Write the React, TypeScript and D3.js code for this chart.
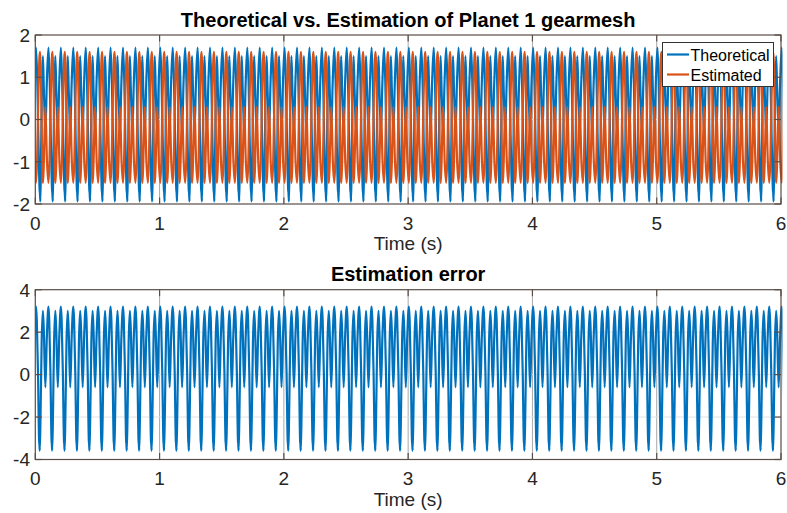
import React from "react";
import * as d3 from "d3";

// ---- data ----
const PERIOD = 0.1; // s, one gearmesh cycle
const FIRST_PEAK = 0.006; // s, time of first tall peak
const T_END = 6;
const xTicks = [0, 1, 2, 3, 4, 5, 6];
const topYTicks = [-2, -1, 0, 1, 2];
const botYTicks = [-4, -2, 0, 2, 4];

// one cycle of each waveform, phase (0..1) and value
const theoPhase = [0.0, 0.1, 0.2, 0.29, 0.31, 0.35, 0.4, 0.47, 0.55, 0.63, 0.75, 0.87];
const theoValue = [1.7, 0.9, -0.6, -1.68, -1.72, -1.94, -0.9, 0.7, 1.5, 0.7, -0.3, 0.9];

const estPhase = [0.0, 0.08, 0.18, 0.27, 0.32, 0.37, 0.45, 0.52, 0.56, 0.62, 0.75, 0.88];
const estValue = [-1.5, -1.0, 0.5, 1.45, 1.6, 1.3, 0.0, -1.35, -1.5, -1.1, 0.3, -1.0];

const errPhase = [0.0, 0.06, 0.16, 0.25, 0.27, 0.3, 0.36, 0.45, 0.55, 0.63, 0.75, 0.87];
const errValue = [3.2, 2.6, 0.0, -3.15, -3.25, -3.58, -2.0, 1.5, 3.0, 2.0, -0.6, 1.8];

const seriesNames = ["Theoretical", "Estimated"];
const topTitle = "Theoretical vs. Estimation of Planet 1 gearmesh";
const botTitle = "Estimation error";
const xLabel = "Time (s)";

// repeat the read cycle over the record
function cycles(phases: number[], values: number[]): [number, number][] {
  const out: [number, number][] = [];
  for (let k = -1; k <= Math.ceil(T_END / PERIOD) + 1; k++) {
    phases.forEach((p, i) => {
      const t = FIRST_PEAK + (k + p) * PERIOD;
      if (t > -0.15 && t < T_END + 0.15) out.push([t, values[i]]);
    });
  }
  return out;
}

const theo = cycles(theoPhase, theoValue);
const est = cycles(estPhase, estValue);
const err = cycles(errPhase, errValue);

const W = 787;
const H = 513;
const FONT = "'Liberation Sans', Arial, Helvetica, sans-serif";
const BLUE = "#0072BD";
const ORANGE = "#D95319";
const AX = "#5a4d46";

const L = 35.3;
const R = 781;

function Panel({
  top, bottom, yDomain, yTicks, series, colors, title, id, legend,
}: {
  top: number; bottom: number; yDomain: [number, number]; yTicks: number[];
  series: [number, number][][]; colors: string[]; title: string; id: string; legend?: boolean;
}) {
  const x = d3.scaleLinear().domain([0, T_END]).range([L, R]);
  const y = d3.scaleLinear().domain(yDomain).range([bottom, top]);
  const line = d3
    .line<[number, number]>()
    .x((d) => x(d[0]))
    .y((d) => y(d[1]))
    .curve(d3.curveMonotoneX);
  const tl = 6.5;
  return (
    <g>
      {/* grid */}
      {xTicks.slice(1, -1).map((t) => (
        <line key={"gx" + t} x1={x(t)} x2={x(t)} y1={top} y2={bottom} stroke="#a8a8a8" strokeWidth={1} />
      ))}
      {yTicks.slice(1, -1).map((t) => (
        <line key={"gy" + t} x1={L} x2={R} y1={y(t)} y2={y(t)} stroke="#e2e2e2" strokeWidth={1} />
      ))}
      <clipPath id={id}>
        <rect x={L} y={top - 1} width={R - L + 1.5} height={bottom - top + 2} />
      </clipPath>
      <g clipPath={`url(#${id})`}>
        {series.map((s, i) => (
          <path key={i} d={line(s) || ""} fill="none" stroke={colors[i]} strokeWidth={2.2} strokeLinejoin="round" />
        ))}
      </g>
      {/* box and ticks */}
      <rect x={L} y={top} width={R - L} height={bottom - top} fill="none" stroke={AX} strokeWidth={1.2} />
      {xTicks.map((t) => (
        <g key={"xt" + t}>
          <line x1={x(t)} x2={x(t)} y1={bottom} y2={bottom - tl} stroke={AX} strokeWidth={1.2} />
          <line x1={x(t)} x2={x(t)} y1={top} y2={top + tl} stroke={AX} strokeWidth={1.2} />
          <text x={x(t)} y={bottom + 25.5} textAnchor="middle" fontSize={19} fontFamily={FONT} fill="#262626">
            {t}
          </text>
        </g>
      ))}
      {yTicks.map((t) => (
        <g key={"yt" + t}>
          <line x1={L} x2={L + tl} y1={y(t)} y2={y(t)} stroke={AX} strokeWidth={1.2} />
          <line x1={R} x2={R - tl} y1={y(t)} y2={y(t)} stroke={AX} strokeWidth={1.2} />
          <text x={30} y={y(t)} dy="0.36em" textAnchor="end" fontSize={19} fontFamily={FONT} fill="#262626">
            {t}
          </text>
        </g>
      ))}
      <text x={(L + R) / 2} y={bottom + 46} textAnchor="middle" fontSize={19} fontFamily={FONT} fill="#262626">
        {xLabel}
      </text>
      <text x={(L + R) / 2} y={top - 8.5} textAnchor="middle" fontSize={20} fontWeight="bold" fontFamily={FONT} fill="#000">
        {title}
      </text>
      {legend && (
        <g>
          <rect x={662.5} y={42.5} width={111} height={44} fill="#fff" stroke="#333" strokeWidth={1} />
          {seriesNames.map((n, i) => (
            <g key={n}>
              <line x1={667} x2={689} y1={54.5 + i * 20} y2={54.5 + i * 20} stroke={colors[i]} strokeWidth={2.2} />
              <text x={690.5} y={60.5 + i * 20.5} fontSize={16} fontFamily={FONT} fill="#000">
                {n}
              </text>
            </g>
          ))}
        </g>
      )}
    </g>
  );
}

export default function App() {
  return (
    <svg
      width={W}
      height={H}
      viewBox={`0 0 ${W} ${H}`}
      style={{ position: "absolute", left: 0, top: 0, background: "#fff" }}
    >
      <rect width={W} height={H} fill="#fff" />
      <Panel
        id="clipTop"
        top={35}
        bottom={204}
        yDomain={[-2, 2]}
        yTicks={topYTicks}
        series={[theo, est]}
        colors={[BLUE, ORANGE]}
        title={topTitle}
        legend
      />
      <Panel
        id="clipBot"
        top={289.7}
        bottom={459.5}
        yDomain={[-4, 4]}
        yTicks={botYTicks}
        series={[err]}
        colors={[BLUE]}
        title={botTitle}
      />
    </svg>
  );
}
